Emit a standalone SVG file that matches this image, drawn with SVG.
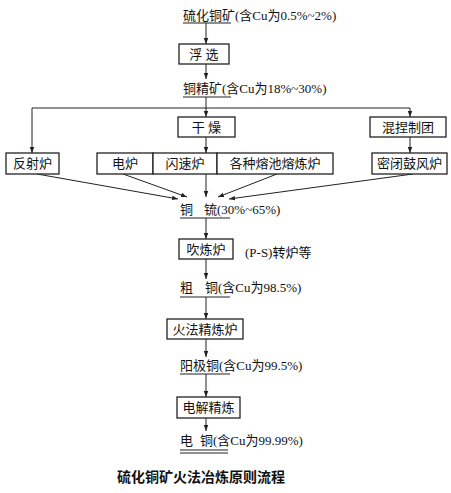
<svg xmlns="http://www.w3.org/2000/svg" width="451" height="493" viewBox="0 0 451 493">
<defs>
<marker id="ah" viewBox="0 0 8 8" refX="8" refY="4" markerWidth="6" markerHeight="6" orient="auto" markerUnits="userSpaceOnUse">
<path d="M0,1 L8,4 L0,7 Z" fill="#222"/>
</marker>
<style>
.t{font-family:"Liberation Serif","Noto Sans CJK SC",serif;font-size:13px;fill:#111}
.b{fill:#fff;stroke:#222;stroke-width:1.3}
.c line,.c path{stroke:#222;stroke-width:1;fill:none}
.u{stroke:#222;stroke-width:1.2}
.cap{font-family:"Noto Sans CJK SC",sans-serif;font-size:14px;fill:#111;font-weight:bold}
</style>
</defs>
<rect width="451" height="493" fill="#fff"/>

<g id="connectors" class="c">
<line x1="206" y1="23" x2="206" y2="44" marker-end="url(#ah)"/>
<line x1="206" y1="64" x2="206" y2="79" marker-end="url(#ah)"/>
<line x1="206" y1="97" x2="206" y2="117" marker-end="url(#ah)"/>
<line x1="32" y1="108" x2="410" y2="108"/>
<line x1="32" y1="108" x2="32" y2="153" marker-end="url(#ah)"/>
<line x1="410" y1="108" x2="410" y2="117" marker-end="url(#ah)"/>
<line x1="206" y1="137" x2="206" y2="153" marker-end="url(#ah)"/>
<line x1="410" y1="137" x2="410" y2="153" marker-end="url(#ah)"/>
<line x1="37" y1="174" x2="178" y2="199" marker-end="url(#ah)"/>
<line x1="123" y1="174" x2="187" y2="197" marker-end="url(#ah)"/>
<line x1="206" y1="174" x2="206" y2="197" marker-end="url(#ah)"/>
<line x1="277" y1="174" x2="218" y2="197" marker-end="url(#ah)"/>
<line x1="413" y1="174" x2="229" y2="199" marker-end="url(#ah)"/>
<line x1="206" y1="218" x2="206" y2="239" marker-end="url(#ah)"/>
<line x1="206" y1="259" x2="206" y2="279" marker-end="url(#ah)"/>
<line x1="206" y1="297" x2="206" y2="319" marker-end="url(#ah)"/>
<line x1="206" y1="339" x2="206" y2="357" marker-end="url(#ah)"/>
<line x1="206" y1="374" x2="206" y2="397" marker-end="url(#ah)"/>
<line x1="206" y1="418" x2="206" y2="431" marker-end="url(#ah)"/>
</g>

<g id="n-ore">
<text class="t" x="183" y="20">硫化铜矿(含Cu为0.5%~2%)</text>
<line class="u" x1="183" y1="23" x2="231" y2="23"/>
</g>
<g id="n-float">
<rect class="b" x="179" y="44" width="50" height="20"/>
<text class="t" x="204" y="59" text-anchor="middle">浮 选</text>
</g>
<g id="n-conc">
<text class="t" x="183" y="93">铜精矿(含Cu为18%~30%)</text>
<line class="u" x1="183" y1="97" x2="231" y2="97"/>
</g>
<g id="n-dry">
<rect class="b" x="178" y="117" width="57" height="20"/>
<text class="t" x="206.5" y="132" text-anchor="middle">干 燥</text>
</g>
<g id="n-mix">
<rect class="b" x="370" y="117" width="76" height="20"/>
<text class="t" x="408" y="132" text-anchor="middle">混捏制团</text>
</g>
<g id="n-rev">
<rect class="b" x="6" y="153" width="53" height="21"/>
<text class="t" x="32.5" y="168" text-anchor="middle">反射炉</text>
</g>
<g id="n-elec">
<rect class="b" x="97" y="153" width="56" height="21"/>
<text class="t" x="125" y="168" text-anchor="middle">电炉</text>
</g>
<g id="n-flash">
<rect class="b" x="153" y="153" width="64" height="21"/>
<text class="t" x="185" y="168" text-anchor="middle">闪速炉</text>
</g>
<g id="n-bath">
<rect class="b" x="217" y="153" width="116" height="21"/>
<text class="t" x="275" y="168" text-anchor="middle">各种熔池熔炼炉</text>
</g>
<g id="n-blast">
<rect class="b" x="372" y="153" width="75" height="21"/>
<text class="t" x="409.5" y="168" text-anchor="middle">密闭鼓风炉</text>
</g>
<g id="n-matte">
<text class="t" x="180" y="214">铜<tspan x="204">锍(30%~65%)</tspan></text>
<line class="u" x1="180" y1="218" x2="230" y2="218"/>
</g>
<g id="n-conv">
<rect class="b" x="179" y="239" width="54" height="20"/>
<text class="t" x="206" y="254" text-anchor="middle">吹炼炉</text>
<text class="t" x="245" y="257">(P-S)转炉等</text>
</g>
<g id="n-blister">
<text class="t" x="180" y="292">粗<tspan x="205">铜(含Cu为98.5%)</tspan></text>
<line class="u" x1="180" y1="297" x2="230" y2="297"/>
</g>
<g id="n-fire">
<rect class="b" x="167" y="319" width="76" height="20"/>
<text class="t" x="205" y="334" text-anchor="middle">火法精炼炉</text>
</g>
<g id="n-anode">
<text class="t" x="180" y="370">阳极铜(含Cu为99.5%)</text>
<line class="u" x1="180" y1="374" x2="230" y2="374"/>
</g>
<g id="n-electro">
<rect class="b" x="177" y="397" width="63" height="21"/>
<text class="t" x="208.5" y="412" text-anchor="middle">电解精炼</text>
</g>
<g id="n-cathode">
<text class="t" x="180" y="445">电<tspan x="200">铜(含Cu为99.99%)</tspan></text>
<line class="u" x1="180" y1="450" x2="228" y2="450"/>
<line class="u" x1="180" y1="453" x2="228" y2="453"/>
</g>
<text class="cap" x="117" y="482">硫化铜矿火法冶炼原则流程</text>
</svg>
